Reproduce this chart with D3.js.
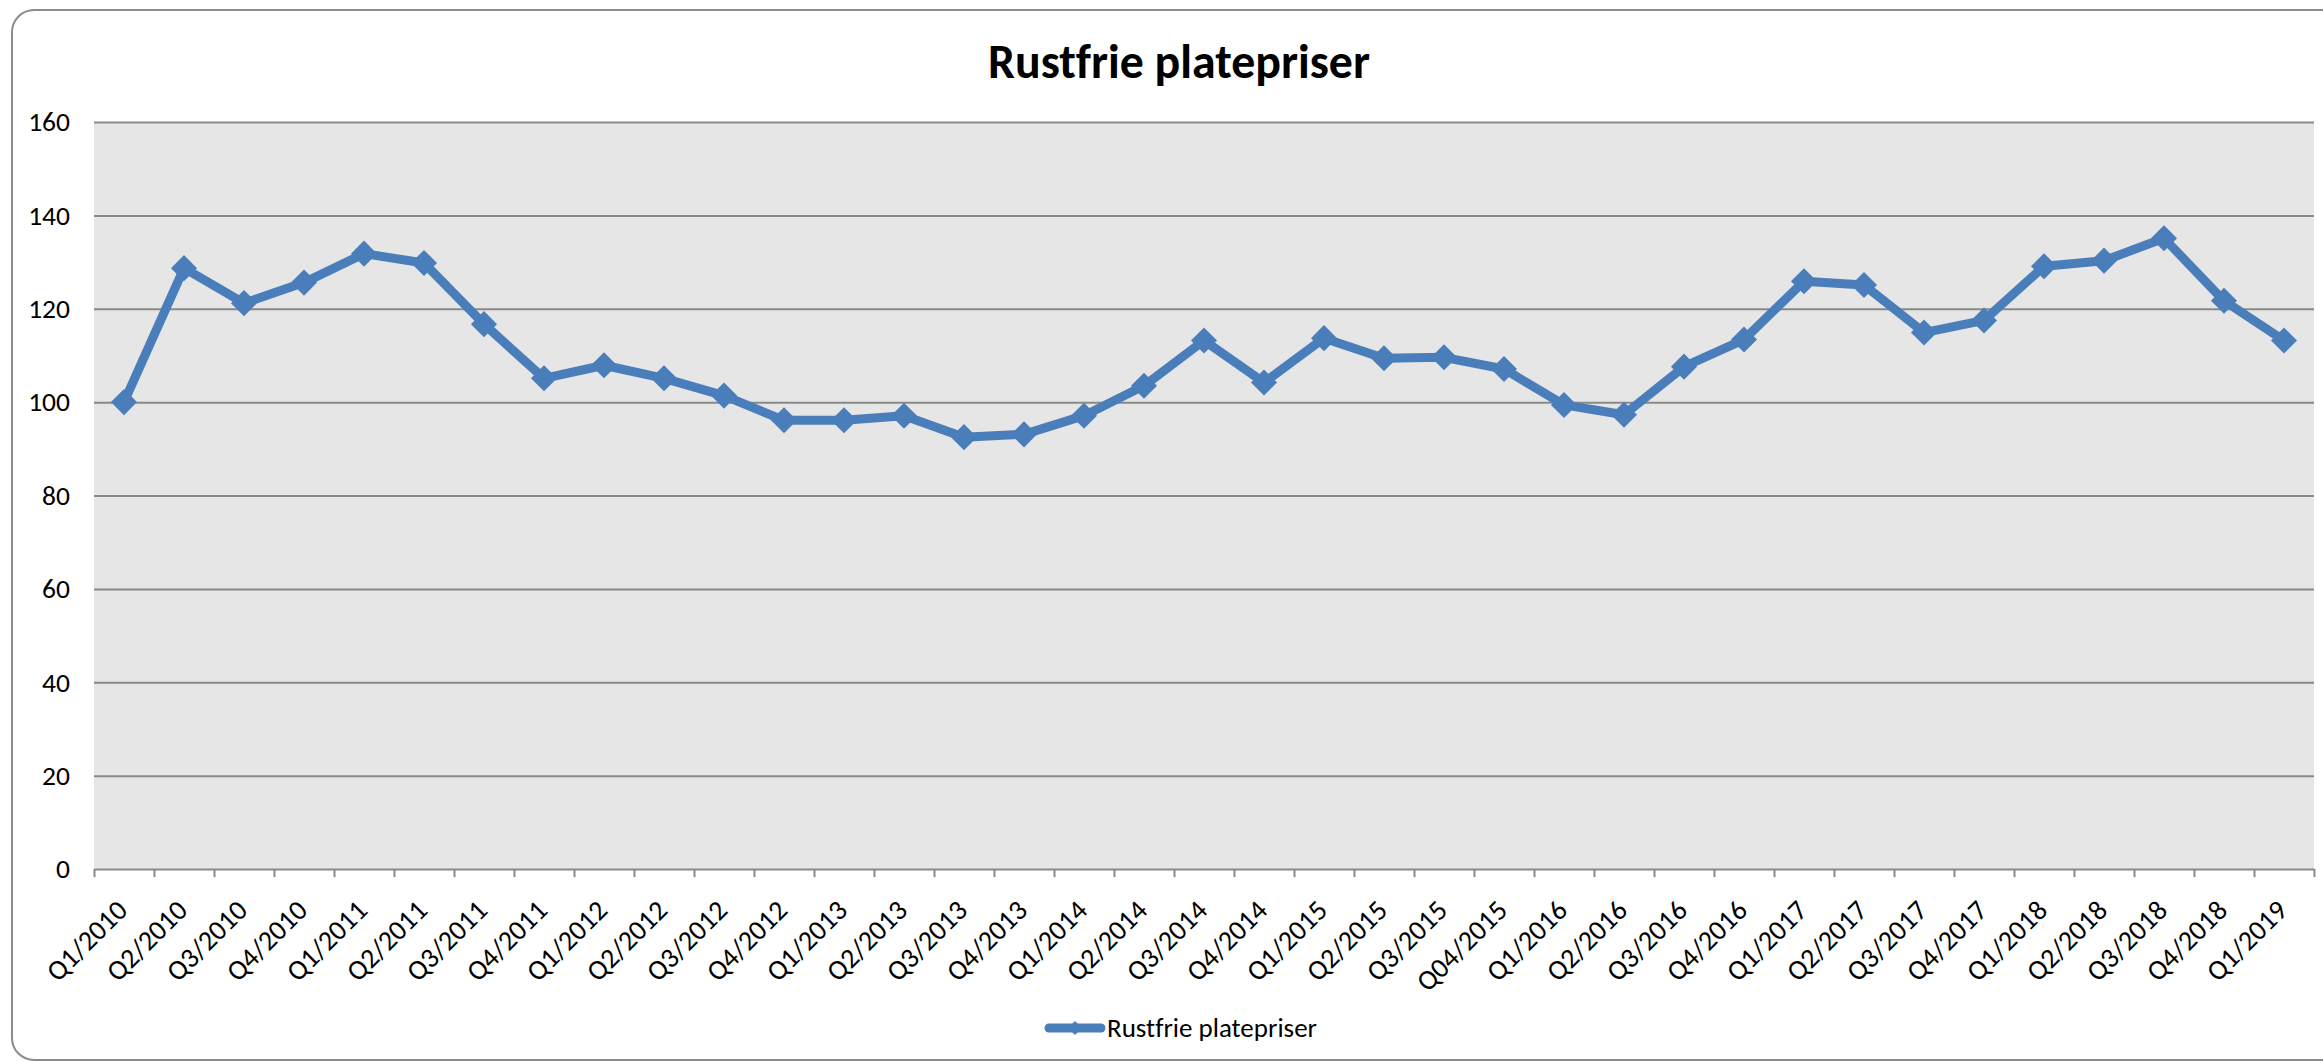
<!DOCTYPE html>
<html>
<head>
<meta charset="utf-8">
<script src="https://cdn.jsdelivr.net/npm/d3@7"></script>
<style>
  html, body { margin: 0; padding: 0; background: #ffffff; }
  svg { display: block; }
  text { font-family: Carlito, Calibri, Lato, "Open Sans", sans-serif; fill: #000; font-variant-ligatures: none; font-feature-settings: "liga" 0; }
</style>
</head>
<body>
<svg id="chart" width="2323" height="1062"></svg>
<script>
const title = "Rustfrie platepriser";
const seriesName = "Rustfrie platepriser";
const categories = [
  "Q1/2010","Q2/2010","Q3/2010","Q4/2010",
  "Q1/2011","Q2/2011","Q3/2011","Q4/2011",
  "Q1/2012","Q2/2012","Q3/2012","Q4/2012",
  "Q1/2013","Q2/2013","Q3/2013","Q4/2013",
  "Q1/2014","Q2/2014","Q3/2014","Q4/2014",
  "Q1/2015","Q2/2015","Q3/2015","Q04/2015",
  "Q1/2016","Q2/2016","Q3/2016","Q4/2016",
  "Q1/2017","Q2/2017","Q3/2017","Q4/2017",
  "Q1/2018","Q2/2018","Q3/2018","Q4/2018",
  "Q1/2019"
];
const values = [
  100, 128.7, 121.2, 125.6,
  131.8, 129.8, 116.7, 105.1,
  107.9, 105.1, 101.4, 96.1,
  96.1, 97.1, 92.5, 93.1,
  97.1, 103.5, 113.2, 104.2,
  113.7, 109.4, 109.6, 107.1,
  99.4, 97.3, 107.6, 113.4,
  125.9, 125.1, 114.9, 117.5,
  129.1, 130.3, 135.1, 121.7,
  113.2
];
const yTicks = [0, 20, 40, 60, 80, 100, 120, 140, 160];

const W = 2323, H = 1062;
const plot = { left: 94, right: 2314, top: 122, bottom: 869 };
const color = "#4A7EBB";
const gridColor = "#898989";

const svg = d3.select("#chart");

// chart border
svg.append("rect")
  .attr("x", 12).attr("y", 10)
  .attr("width", 2345).attr("height", 1050)
  .attr("rx", 22).attr("ry", 22)
  .attr("fill", "#ffffff")
  .attr("stroke", "#8c8c8c").attr("stroke-width", 2);

const x = d3.scaleBand().domain(categories).range([plot.left, plot.right]).padding(0);
const xIdx = d3.scaleLinear().domain([0, categories.length]).range([plot.left, plot.right]);
const y = d3.scaleLinear().domain([0, 160]).range([plot.bottom, plot.top]);

// plot area background
svg.append("rect")
  .attr("x", plot.left).attr("y", plot.top)
  .attr("width", plot.right - plot.left).attr("height", plot.bottom - plot.top)
  .attr("fill", "#e6e6e6");

// gridlines
svg.append("g")
  .attr("transform", `translate(${plot.left},0)`)
  .call(d3.axisLeft(y).tickValues(yTicks.filter(t => t > 0)).tickSize(-(plot.right - plot.left)).tickFormat(""))
  .call(g => g.select(".domain").remove())
  .call(g => g.selectAll(".tick line").attr("stroke", gridColor).attr("stroke-width", 2));

// y labels
svg.append("g")
  .attr("transform", `translate(${plot.left},0)`)
  .call(d3.axisLeft(y).tickValues(yTicks).tickSize(0).tickPadding(24).tickFormat(d3.format("d")))
  .call(g => g.select(".domain").remove())
  .call(g => g.selectAll(".tick text")
    .style("font-family", "Carlito, Calibri, Lato, sans-serif")
    .attr("font-size", 27.5).attr("fill", "#000"));

// x axis line + tick marks at category boundaries
svg.append("g")
  .attr("transform", `translate(0,${plot.bottom})`)
  .call(d3.axisBottom(xIdx).tickValues(d3.range(0, categories.length + 1)).tickSize(8).tickFormat("").tickSizeOuter(0))
  .call(g => g.select(".domain").attr("stroke", gridColor).attr("stroke-width", 2))
  .call(g => g.selectAll(".tick line").attr("stroke", gridColor).attr("stroke-width", 2));

// x labels (rotated)
const xLab = svg.append("g")
  .attr("transform", `translate(0,${plot.bottom})`)
  .call(d3.axisBottom(x).tickSize(0).tickFormat(d => d))
  .call(g => g.select(".domain").remove());
xLab.selectAll(".tick text")
  .style("font-family", "Carlito, Calibri, Lato, sans-serif")
  .attr("font-size", 28).attr("fill", "#000")
  .attr("text-anchor", "end")
  .attr("x", 0).attr("y", 0).attr("dy", "0.35em")
  .attr("transform", "translate(-2,36) rotate(-45)");

// line
const line = d3.line()
  .x((d, i) => x(categories[i]) + x.bandwidth() / 2)
  .y(d => y(d));
svg.append("path")
  .datum(values)
  .attr("d", line)
  .attr("fill", "none")
  .attr("stroke", color)
  .attr("stroke-width", 9)
  .attr("stroke-linejoin", "round");

// markers (diamonds)
const diamond = d3.symbol().type(d3.symbolSquare).size(340);
svg.append("g").selectAll("path")
  .data(values)
  .join("path")
  .attr("d", diamond)
  .attr("fill", color)
  .attr("transform", (d, i) => `translate(${x(categories[i]) + x.bandwidth() / 2},${y(d)}) rotate(45)`);

// title
const t = svg.append("text")
  .attr("x", 1179).attr("y", 78)
  .attr("text-anchor", "middle")
  .attr("font-weight", "bold")
  .attr("font-size", 44)
  .text(title);
const tw = t.node().getComputedTextLength();
t.attr("font-size", 44 * 382 / tw);

// legend
const lg = svg.append("g");
lg.append("line")
  .attr("x1", 1049).attr("x2", 1101).attr("y1", 1028).attr("y2", 1028)
  .attr("stroke", color).attr("stroke-width", 9).attr("stroke-linecap", "round");
lg.append("path")
  .attr("d", d3.symbol().type(d3.symbolSquare).size(100)())
  .attr("fill", color)
  .attr("transform", "translate(1075,1028) rotate(45)");
lg.append("text")
  .attr("x", 1107).attr("y", 1037)
  .attr("font-size", 27)
  .text(seriesName);
</script>
</body>
</html>
